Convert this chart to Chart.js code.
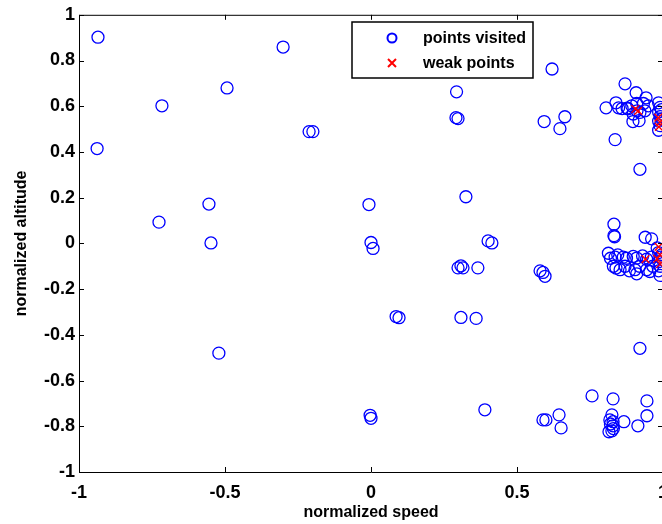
<!DOCTYPE html>
<html>
<head>
<meta charset="utf-8">
<script src="https://cdn.jsdelivr.net/npm/chart.js@4.4.0/dist/chart.umd.min.js"></script>
<style>
  body { margin: 0; background: #fff; }
  #clip { width: 662px; height: 524px; overflow: hidden; position: relative; }
  #wrap { width: 680px; height: 524px; position: absolute; left: 0; top: 0; }
</style>
</head>
<body>
<div id="clip"><div id="wrap"><canvas id="plot"></canvas></div></div>
<script>
// tick values on both axes
const xTicks = [-1, -0.5, 0, 0.5, 1];
const yTicks = [-1, -0.8, -0.6, -0.4, -0.2, 0, 0.2, 0.4, 0.6, 0.8, 1];

// points visited (normalized speed, normalized altitude)
const visitedX = [
  -0.935, -0.938, -0.716, -0.493, -0.301, -0.212, -0.199, -0.726, -0.555, -0.548,
  -0.521, -0.007, 0.000, 0.007, -0.003, 0.000, 0.086, 0.096, 0.293, 0.291,
  0.298, 0.620, 0.593, 0.647, 0.664, 0.325, 0.401, 0.414, 0.298, 0.308,
  0.315, 0.366, 0.579, 0.589, 0.596, 0.308, 0.360, 0.390, 0.589, 0.599,
  0.644, 0.651, 0.757,
  // top right cluster
  0.805, 0.839, 0.870, 0.880, 0.908, 0.911, 0.942, 0.918, 0.897, 0.836,
  0.921, 0.877, 0.893, 0.910, 0.933, 0.950, 0.938, 0.921, 0.898, 0.860,
  0.848, 0.985, 0.990, 0.985, 0.990, 0.985, 0.990, 0.985, 0.995, 0.995,
  // middle right cluster
  0.832, 0.832, 0.834, 0.939, 0.961, 0.813, 0.836, 0.864, 0.898, 0.910,
  0.944, 0.839, 0.853, 0.904, 0.944, 0.955, 0.910, 0.820, 0.845, 0.875,
  0.830, 0.870, 0.920, 0.930, 0.885, 0.960, 0.965, 0.980, 0.985, 0.990,
  0.985, 0.990, 0.985, 0.990, 0.995,
  // bottom right cluster
  0.921, 0.829, 0.945, 0.945, 0.914, 0.866, 0.825, 0.818, 0.829, 0.829,
  0.825, 0.815, 0.830, 0.820
];
const visitedY = [
  0.902, 0.415, 0.602, 0.680, 0.859, 0.489, 0.489, 0.093, 0.172, 0.002,
  -0.480, 0.170, 0.004, -0.022, -0.752, -0.765, -0.320, -0.325, 0.663, 0.550,
  0.546, 0.763, 0.533, 0.502, 0.554, 0.204, 0.011, 0.002, -0.107, -0.098,
  -0.107, -0.107, -0.120, -0.127, -0.144, -0.324, -0.328, -0.728, -0.772, -0.772,
  -0.750, -0.807, -0.667,
  0.593, 0.615, 0.698, 0.589, 0.659, 0.580, 0.637, 0.537, 0.533, 0.454,
  0.324, 0.592, 0.602, 0.612, 0.612, 0.602, 0.580, 0.573, 0.566, 0.590,
  0.593, 0.615, 0.595, 0.575, 0.555, 0.535, 0.515, 0.495, 0.585, 0.545,
  0.084, 0.034, 0.029, 0.027, 0.020, -0.043, -0.060, -0.060, -0.057, -0.064,
  -0.069, -0.108, -0.115, -0.115, -0.115, -0.123, -0.133, -0.065, -0.050, -0.065,
  -0.100, -0.100, -0.100, -0.055, -0.120, -0.060, -0.100, -0.020, -0.040, -0.060,
  -0.080, -0.100, -0.120, -0.140, -0.050,
  -0.459, -0.680, -0.689, -0.754, -0.798, -0.780, -0.750, -0.772, -0.780, -0.798,
  -0.820, -0.824, -0.810, -0.790
];

// weak points
const weakX = [0.915, 0.905, 0.984, 0.990, 0.986, 0.940, 0.985, 0.980, 0.990, 0.990];
const weakY = [0.580, 0.588, 0.550, 0.530, 0.510, -0.069, -0.015, -0.067, -0.050, -0.090];

const FONT = 'Arial, "Liberation Sans", Helvetica, sans-serif';

const toPoints = (xs, ys) => xs.map((x, i) => ({ x: x, y: ys[i] }));

// MATLAB-like box: inward ticks on all four sides plus the legend
const boxPlugin = {
  id: 'box',
  afterDraw(chart) {
    const ctx = chart.ctx;
    const a = chart.chartArea;
    const xs = chart.scales.x, ys = chart.scales.y;
    const len = 5;
    ctx.save();
    ctx.strokeStyle = '#000';
    ctx.lineWidth = 1;
    ctx.beginPath();
    ctx.rect(a.left + 0.5, a.top + 0.5, a.right - a.left, a.bottom - a.top);
    xTicks.forEach((v) => {
      const px = Math.round(xs.getPixelForValue(v)) + 0.5;
      ctx.moveTo(px, a.bottom); ctx.lineTo(px, a.bottom - len);
      ctx.moveTo(px, a.top); ctx.lineTo(px, a.top + len);
    });
    yTicks.forEach((v) => {
      const py = Math.round(ys.getPixelForValue(v)) + 0.5;
      ctx.moveTo(a.left, py); ctx.lineTo(a.left + len, py);
      ctx.moveTo(a.right, py); ctx.lineTo(a.right - len, py);
    });
    ctx.stroke();

    // legend box
    const lx = 352, ly = 22, lw = 181, lh = 56;
    ctx.fillStyle = '#fff';
    ctx.fillRect(lx, ly, lw, lh);
    ctx.lineWidth = 1.5;
    ctx.strokeRect(lx, ly, lw, lh);
    const rows = [chart.data.datasets[1], chart.data.datasets[0]];
    ctx.font = 'bold 16px ' + FONT;
    ctx.textBaseline = 'middle';
    rows.forEach((ds, i) => {
      const cy = ly + 16 + i * 25;
      const cx = lx + 40;
      ctx.strokeStyle = ds.borderColor;
      ctx.lineWidth = 2;
      ctx.beginPath();
      if (ds.pointStyle === 'circle') {
        ctx.arc(cx, cy, 4.5, 0, Math.PI * 2);
      } else {
        ctx.moveTo(cx - 4, cy - 4); ctx.lineTo(cx + 4, cy + 4);
        ctx.moveTo(cx + 4, cy - 4); ctx.lineTo(cx - 4, cy + 4);
      }
      ctx.stroke();
      ctx.fillStyle = '#000';
      ctx.fillText(ds.label, lx + 71, cy + 1);
    });
    ctx.restore();
  }
};

new Chart(document.getElementById('plot'), {
  type: 'scatter',
  data: {
    datasets: [
      {
        label: 'weak points',
        data: toPoints(weakX, weakY),
        pointStyle: 'crossRot',
        pointRadius: 5.5,
        borderColor: '#ff0000',
        backgroundColor: '#ff0000',
        pointBorderWidth: 1.3,
        order: 0
      },
      {
        label: 'points visited',
        data: toPoints(visitedX, visitedY),
        pointStyle: 'circle',
        pointRadius: 6,
        borderColor: '#0000ff',
        backgroundColor: 'rgba(0,0,0,0)',
        pointBorderWidth: 1.3,
        order: 1
      }
    ]
  },
  options: {
    responsive: true,
    maintainAspectRatio: false,
    animation: false,
    layout: { padding: { left: 0, right: 17, top: 14, bottom: 2 } },
    plugins: {
      legend: { display: false },
      tooltip: { enabled: false }
    },
    scales: {
      x: {
        type: 'linear',
        min: -1, max: 1,
        afterBuildTicks: (s) => { s.ticks = xTicks.map((v) => ({ value: v })); },
        afterFit: (s) => { s.height = 50; },
        grid: { display: false, drawTicks: false },
        border: { display: false },
        ticks: {
          padding: 10,
          color: '#000',
          font: { family: FONT, size: 18, weight: 'bold' },
          callback: (v) => String(v)
        },
        title: {
          display: true,
          text: 'normalized speed',
          color: '#000',
          padding: { top: 0, bottom: 0 },
          font: { family: FONT, size: 16, weight: 'bold' }
        }
      },
      y: {
        type: 'linear',
        min: -1, max: 1,
        afterBuildTicks: (s) => { s.ticks = yTicks.map((v) => ({ value: v })); },
        afterFit: (s) => { s.width = 79; },
        grid: { display: false, drawTicks: false },
        border: { display: false },
        ticks: {
          padding: 4,
          color: '#000',
          font: { family: FONT, size: 18, weight: 'bold' },
          callback: (v) => String(v)
        },
        title: {
          display: true,
          text: 'normalized altitude',
          color: '#000',
          padding: { top: 12, bottom: 0 },
          font: { family: FONT, size: 16, weight: 'bold' }
        }
      }
    }
  },
  plugins: [boxPlugin]
});
</script>
</body>
</html>
